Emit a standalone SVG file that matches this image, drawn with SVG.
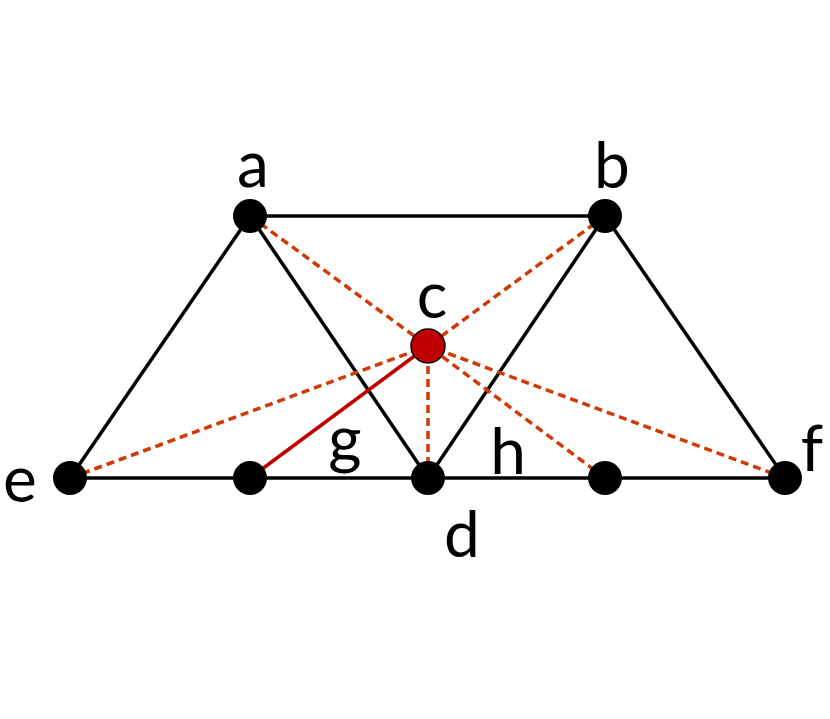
<svg xmlns="http://www.w3.org/2000/svg" width="830" height="719" viewBox="0 0 830 719">
<style>
.e{stroke:#000;stroke-width:3.5;fill:none}
.dash{stroke:#d03a05;stroke-width:3.5;stroke-dasharray:8 5;fill:none}
.red{stroke:#c00000;stroke-width:3.5;fill:none}
.n{fill:#000}
.lbl{font-family:Lato,"DejaVu Sans",sans-serif;font-size:64px;fill:#000;text-anchor:middle}
</style>
<rect width="830" height="719" fill="#fff"/>
<g id="connectors">
<line class="e" x1="250" y1="216" x2="605" y2="216"/>
<line class="e" x1="70" y1="478" x2="785" y2="478"/>
<line class="e" x1="250" y1="216" x2="70" y2="478"/>
<line class="e" x1="250" y1="216" x2="428" y2="478"/>
<line class="e" x1="605" y1="216" x2="428" y2="478"/>
<line class="e" x1="605" y1="216" x2="785" y2="478"/>
<line class="dash" x1="250" y1="216" x2="428" y2="346"/>
<line class="dash" x1="605" y1="216" x2="428" y2="346"/>
<line class="dash" x1="70" y1="478" x2="428" y2="346"/>
<line class="dash" x1="428" y1="478" x2="428" y2="346"/>
<line class="dash" x1="605" y1="478" x2="428" y2="346"/>
<line class="dash" x1="785" y1="478" x2="428" y2="346"/>
<line class="red" x1="250" y1="478" x2="428" y2="346"/>
</g>
<g id="node-a"><circle class="n" cx="250" cy="216" r="17"/><text class="lbl" x="253" y="187">a</text></g>
<g id="node-b"><circle class="n" cx="605" cy="216" r="17"/><text class="lbl" x="612" y="188">b</text></g>
<g id="node-c"><circle cx="428" cy="346" r="17" fill="#c00000" stroke="#000" stroke-width="1.5"/><text class="lbl" x="432" y="318">c</text></g>
<g id="node-e"><circle class="n" cx="70" cy="478" r="17"/><text class="lbl" x="20" y="502">e</text></g>
<g id="node-g"><circle class="n" cx="250" cy="478" r="17"/><text class="lbl" x="345" y="462">g</text></g>
<g id="node-d"><circle class="n" cx="428" cy="478" r="17"/><text class="lbl" x="462" y="557">d</text></g>
<g id="node-h"><circle class="n" cx="605" cy="478" r="17"/><text class="lbl" x="508" y="474">h</text></g>
<g id="node-f"><circle class="n" cx="785" cy="478" r="17"/><text class="lbl" x="812" y="471">f</text></g>
</svg>
